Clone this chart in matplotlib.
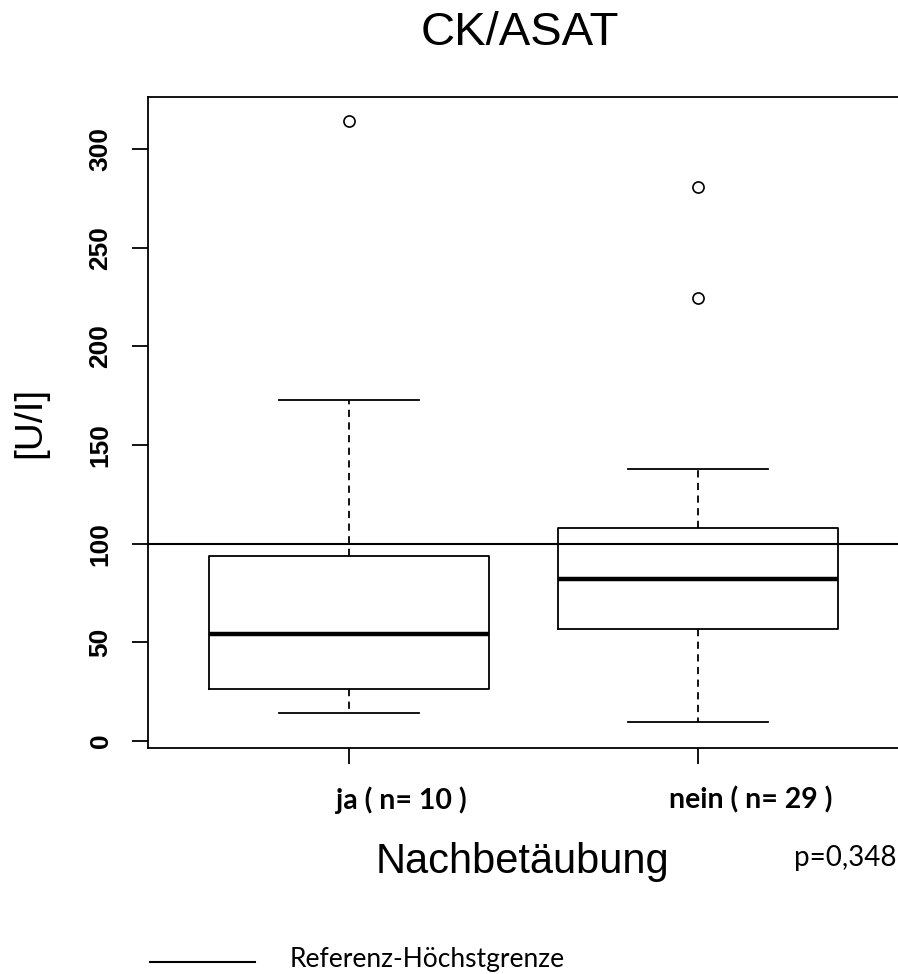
import matplotlib
matplotlib.use("Agg")
import matplotlib.pyplot as plt
from matplotlib.lines import Line2D

# ---- data ----
GROUPS = ["ja", "nein"]
N_PER_GROUP = [10, 29]
WHISKER_LOW = [14.0, 9.5]
Q1 = [26.5, 57.0]
MEDIAN = [54.5, 82.0]
Q3 = [94.0, 108.0]
WHISKER_HIGH = [173.0, 138.0]
OUTLIERS = [[314.0], [224.5, 281.0]]
REF_UPPER_LIMIT = 100
Y_TICKS = [0, 50, 100, 150, 200, 250, 300]
P_VALUE = "p=0,348"

BLACK = "#000000"
SANS = ["Liberation Sans", "Arial", "DejaVu Sans"]
CAL = ["Lato", "DejaVu Sans"]

plt.rcParams.update({
    "font.family": SANS,
    "axes.linewidth": 1.3,
})

fig = plt.figure(figsize=(8.98, 9.74), dpi=100)
ax = fig.add_axes([148 / 898, 1 - 748 / 974, 751 / 898, (748 - 97) / 974])

stats = []
for i, g in enumerate(GROUPS):
    stats.append(dict(label=g, whislo=WHISKER_LOW[i], q1=Q1[i], med=MEDIAN[i],
                      q3=Q3[i], whishi=WHISKER_HIGH[i], fliers=OUTLIERS[i]))

ax.bxp(stats, positions=[1, 2], widths=0.8, capwidths=0.4, showfliers=True,
       boxprops=dict(color=BLACK, linewidth=1.3),
       medianprops=dict(color=BLACK, linewidth=3.2, solid_capstyle="butt"),
       whiskerprops=dict(color=BLACK, linewidth=1.3, linestyle=(0, (4, 3))),
       capprops=dict(color=BLACK, linewidth=1.3),
       flierprops=dict(marker="o", markersize=8, markerfacecolor="white",
                       markeredgecolor=BLACK, markeredgewidth=1.2))

ax.axhline(REF_UPPER_LIMIT, color=BLACK, linewidth=1.5, zorder=1)

ax.set_xlim(0.424, 2.576)
ax.set_ylim(-3.5, 326.4)
ax.spines["right"].set_visible(False)

ax.set_yticks(Y_TICKS)
ax.set_yticklabels([str(t) for t in Y_TICKS], rotation=90, va="center",
                   fontsize=19, fontweight="bold")
ax.tick_params(axis="y", length=11.5, width=1.3, pad=14)
ax.set_xticks([1, 2])
ax.set_xticklabels(["", ""])
ax.tick_params(axis="x", length=11.5, width=1.3)

fig.text(30 / 898, 1 - 422 / 974, "[U/I]", rotation=90, ha="center", va="center",
         fontsize=28)

# group labels (shifted right of the ticks, as in the original)
for i, g in enumerate(GROUPS):
    ax.text(i + 1 + 0.15, -0.08, f"{g} ( n= {N_PER_GROUP[i]} )",
            transform=ax.get_xaxis_transform(), ha="center", va="center",
            fontsize=20.5, fontweight="bold", family=CAL)

fig.text(520 / 898, 1 - 33 / 974, "CK/ASAT", ha="center", va="center", fontsize=34)
fig.text(522 / 898, 1 - 862 / 974, "Nachbetäubung", ha="center", va="center", fontsize=30)
fig.text(897 / 898, 1 - 858 / 974, P_VALUE, ha="right", va="center", fontsize=20, family=CAL)

# legend for the reference line
fig.add_artist(Line2D([150 / 898, 255 / 898], [1 - 962 / 974, 1 - 962 / 974],
                      color=BLACK, linewidth=1.5))
fig.text(290 / 898, 1 - 960 / 974, "Referenz-Höchstgrenze", ha="left", va="center",
         fontsize=19, family=CAL)

fig.savefig("out.png", dpi=100, facecolor="white")
